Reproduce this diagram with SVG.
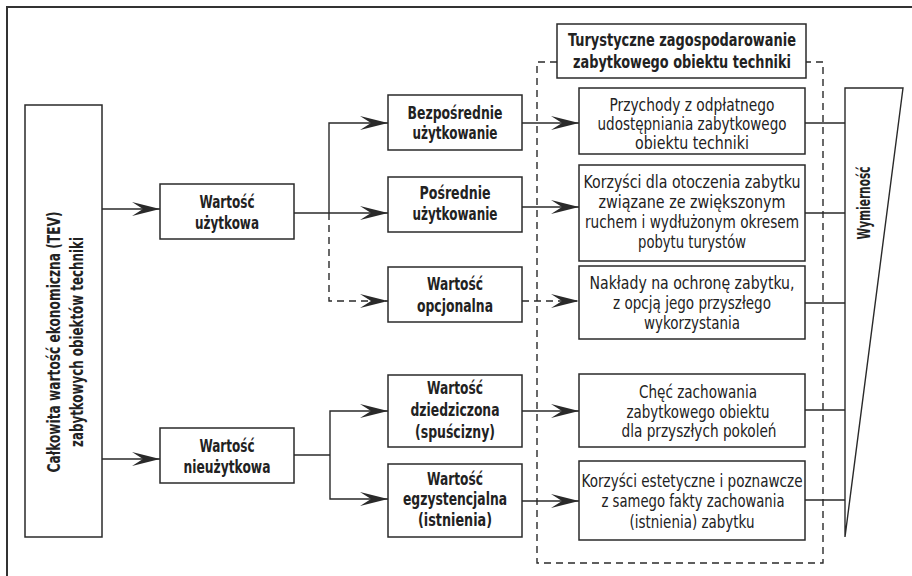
<svg xmlns="http://www.w3.org/2000/svg" width="912" height="576" viewBox="0 0 912 576">
<defs>
<style>
.box{fill:#fff;stroke:#2a2a2a;stroke-width:1.5}
.ln{fill:none;stroke:#2a2a2a;stroke-width:1.4}
.dash{fill:none;stroke:#2a2a2a;stroke-width:1.4;stroke-dasharray:7 5}
.b{font-family:"Liberation Sans Narrow","Arial Narrow","DejaVu Sans Condensed",sans-serif;font-weight:bold;font-size:18px;fill:#222;text-anchor:middle}
.r{font-family:"Liberation Sans Narrow","Arial Narrow","DejaVu Sans Condensed",sans-serif;font-size:17.5px;fill:#222;text-anchor:middle}
</style>
<marker id="ah" viewBox="-30 -8 32 16" refX="0" refY="0" markerWidth="32" markerHeight="16" markerUnits="userSpaceOnUse" orient="auto">
<path d="M0,0 L-28,-7 L-17,0 L-28,7 Z" fill="#2a2a2a"/>
</marker>
</defs>
<rect width="912" height="576" fill="#fff"/>
<path d="M7,576 V7 H912" fill="none" stroke="#333" stroke-width="2"/>

<g id="connectors">
<path class="ln" d="M102,209 H160" marker-end="url(#ah)"/>
<path class="ln" d="M102,459 H160" marker-end="url(#ah)"/>
<path class="ln" d="M294,213 H388" marker-end="url(#ah)"/>
<path class="ln" d="M329,213 V123 H388" marker-end="url(#ah)"/>
<path class="dash" d="M329,213 V301 H388" marker-end="url(#ah)"/>
<path class="ln" d="M522,123 H579" marker-end="url(#ah)"/>
<path class="ln" d="M522,207 H579" marker-end="url(#ah)"/>
<path class="dash" d="M522,301 H579" marker-end="url(#ah)"/>
<path class="ln" d="M294,455 H330"/>
<path class="ln" d="M330,455 V411 H388" marker-end="url(#ah)"/>
<path class="ln" d="M330,455 V499 H388" marker-end="url(#ah)"/>
<path class="ln" d="M522,411 H579" marker-end="url(#ah)"/>
<path class="ln" d="M522,501 H579" marker-end="url(#ah)"/>
<path class="ln" d="M805,123 H845 M805,213 H845 M805,303 H845 M805,410 H845 M805,500 H845"/>
</g>

<g id="frame-tourism">
<path class="dash" d="M557,62 H537 V563 H823 V62 H806"/>
<rect class="box" x="557" y="24" width="249" height="54"/>
<text class="b" x="682" y="46" textLength="228" lengthAdjust="spacingAndGlyphs">Turystyczne zagospodarowanie</text>
<text class="b" x="682" y="68" textLength="218" lengthAdjust="spacingAndGlyphs">zabytkowego obiektu techniki</text>
</g>

<g id="tev">
<rect class="box" x="25" y="105" width="77" height="432"/>
<text class="b" transform="translate(60,342) rotate(-90)" x="0" y="0" textLength="261" lengthAdjust="spacingAndGlyphs">Całkowita wartość ekonomiczna (TEV)</text>
<text class="b" transform="translate(83,342) rotate(-90)" x="0" y="0" textLength="210" lengthAdjust="spacingAndGlyphs">zabytkowych obiektów techniki</text>
</g>

<g id="uzytkowa">
<rect class="box" x="160" y="184" width="134" height="55"/>
<text class="b" x="227" y="208" textLength="55" lengthAdjust="spacingAndGlyphs">Wartość</text>
<text class="b" x="227" y="229" textLength="64" lengthAdjust="spacingAndGlyphs">użytkowa</text>
</g>

<g id="nieuzytkowa">
<rect class="box" x="160" y="428" width="134" height="55"/>
<text class="b" x="227" y="452" textLength="55" lengthAdjust="spacingAndGlyphs">Wartość</text>
<text class="b" x="227" y="473" textLength="87" lengthAdjust="spacingAndGlyphs">nieużytkowa</text>
</g>

<g id="bezposrednie">
<rect class="box" x="388" y="95" width="134" height="55"/>
<text class="b" x="455" y="119" textLength="95" lengthAdjust="spacingAndGlyphs">Bezpośrednie</text>
<text class="b" x="455" y="139" textLength="85" lengthAdjust="spacingAndGlyphs">użytkowanie</text>
</g>

<g id="posrednie">
<rect class="box" x="388" y="177" width="134" height="55"/>
<text class="b" x="455" y="199" textLength="71" lengthAdjust="spacingAndGlyphs">Pośrednie</text>
<text class="b" x="455" y="220" textLength="85" lengthAdjust="spacingAndGlyphs">użytkowanie</text>
</g>

<g id="opcjonalna">
<rect class="box" x="388" y="267" width="134" height="55"/>
<text class="b" x="455" y="290" textLength="56" lengthAdjust="spacingAndGlyphs">Wartość</text>
<text class="b" x="455" y="312" textLength="76" lengthAdjust="spacingAndGlyphs">opcjonalna</text>
</g>

<g id="dziedziczona">
<rect class="box" x="388" y="375" width="134" height="72"/>
<text class="b" x="455" y="394" textLength="56" lengthAdjust="spacingAndGlyphs">Wartość</text>
<text class="b" x="455" y="416" textLength="89" lengthAdjust="spacingAndGlyphs">dziedziczona</text>
<text class="b" x="455" y="438" textLength="80" lengthAdjust="spacingAndGlyphs">(spuścizny)</text>
</g>

<g id="egzystencjalna">
<rect class="box" x="388" y="464" width="134" height="73"/>
<text class="b" x="455" y="485" textLength="56" lengthAdjust="spacingAndGlyphs">Wartość</text>
<text class="b" x="455" y="505" textLength="104" lengthAdjust="spacingAndGlyphs">egzystencjalna</text>
<text class="b" x="455" y="526" textLength="74" lengthAdjust="spacingAndGlyphs">(istnienia)</text>
</g>

<g id="przychody">
<rect class="box" x="579" y="88" width="226" height="66"/>
<text class="r" x="692" y="111" textLength="165" lengthAdjust="spacingAndGlyphs">Przychody z odpłatnego</text>
<text class="r" x="692" y="130" textLength="189" lengthAdjust="spacingAndGlyphs">udostępniania zabytkowego</text>
<text class="r" x="692" y="149" textLength="114" lengthAdjust="spacingAndGlyphs">obiektu techniki</text>
</g>

<g id="korzysci-otoczenie">
<rect class="box" x="579" y="165" width="226" height="96"/>
<text class="r" x="692" y="188" textLength="217" lengthAdjust="spacingAndGlyphs">Korzyści dla otoczenia zabytku</text>
<text class="r" x="692" y="208" textLength="187" lengthAdjust="spacingAndGlyphs">związane ze zwiększonym</text>
<text class="r" x="692" y="228" textLength="214" lengthAdjust="spacingAndGlyphs">ruchem i wydłużonym okresem</text>
<text class="r" x="692" y="248" textLength="108" lengthAdjust="spacingAndGlyphs">pobytu turystów</text>
</g>

<g id="naklady">
<rect class="box" x="579" y="266" width="226" height="73"/>
<text class="r" x="692" y="289" textLength="205" lengthAdjust="spacingAndGlyphs">Nakłady na ochronę zabytku,</text>
<text class="r" x="692" y="309" textLength="158" lengthAdjust="spacingAndGlyphs">z opcją jego przyszłego</text>
<text class="r" x="692" y="329" textLength="96" lengthAdjust="spacingAndGlyphs">wykorzystania</text>
</g>

<g id="chec">
<rect class="box" x="579" y="374" width="226" height="73"/>
<text class="r" x="698" y="398" textLength="118" lengthAdjust="spacingAndGlyphs">Chęć zachowania</text>
<text class="r" x="698" y="418" textLength="143" lengthAdjust="spacingAndGlyphs">zabytkowego obiektu</text>
<text class="r" x="699" y="437" textLength="155" lengthAdjust="spacingAndGlyphs">dla przyszłych pokoleń</text>
</g>

<g id="korzysci-estetyczne">
<rect class="box" x="579" y="461" width="226" height="79"/>
<text class="r" x="692" y="487" textLength="221" lengthAdjust="spacingAndGlyphs">Korzyści estetyczne i poznawcze</text>
<text class="r" x="693" y="507" textLength="183" lengthAdjust="spacingAndGlyphs">z samego fakty zachowania</text>
<text class="r" x="692" y="528" textLength="125" lengthAdjust="spacingAndGlyphs">(istnienia) zabytku</text>
</g>

<g id="wymiernosc">
<path class="ln" d="M903,88 H845 V537 Z" fill="#fff"/>
<text class="b" transform="translate(870,203) rotate(-90)" x="0" y="0" textLength="73" lengthAdjust="spacingAndGlyphs">Wymierność</text>
</g>
</svg>
